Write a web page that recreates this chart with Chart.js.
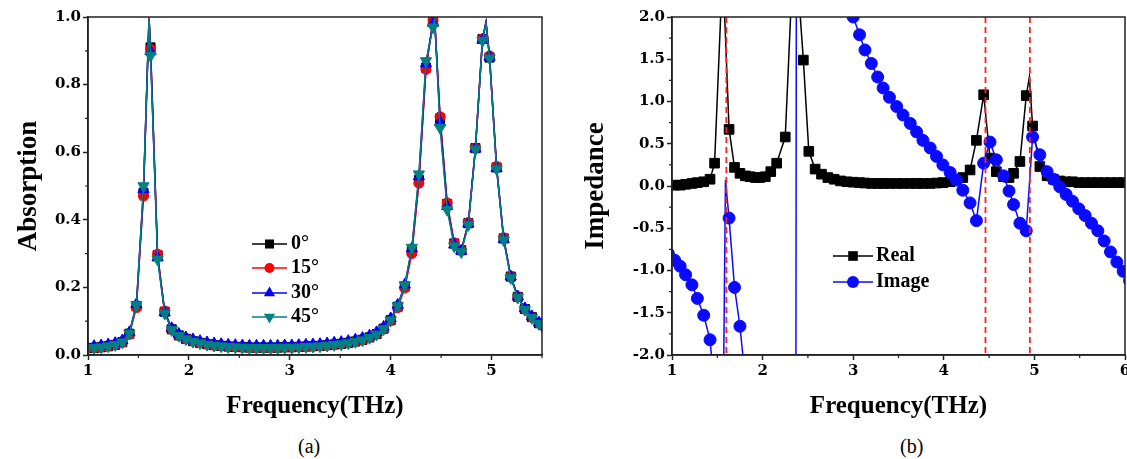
<!DOCTYPE html>
<html>
<head>
<meta charset="utf-8">
<script src="https://cdn.jsdelivr.net/npm/chart.js@4.4.1/dist/chart.umd.min.js"></script>
<style>
  body { margin: 0; background: #fff; width: 1127px; height: 459px; position: relative; overflow: hidden; }
  .panel { position: absolute; top: 0; height: 425px; }
  #panelA { left: 0; width: 560px; }
  #panelB { left: 560px; width: 575px; }
  .caption { position: absolute; top: 435px; font: 20px "Liberation Serif", serif; color: #000; }
</style>
</head>
<body>
<div class="panel" id="panelA"><canvas id="absChart"></canvas></div>
<div class="panel" id="panelB"><canvas id="impChart"></canvas></div>
<div class="caption" style="left:298px">(a)</div>
<div class="caption" style="left:900px">(b)</div>
<script>
// --- (a) absorption, one marker every ~0.07 THz ---
const freqA = [0.99, 1.06, 1.13, 1.20, 1.27, 1.34, 1.41, 1.48, 1.55, 1.62,
  1.69, 1.76, 1.83, 1.90, 1.97, 2.04, 2.11, 2.18, 2.25, 2.32,
  2.39, 2.46, 2.53, 2.60, 2.67, 2.74, 2.81, 2.88, 2.95, 3.02,
  3.09, 3.16, 3.23, 3.30, 3.37, 3.44, 3.51, 3.58, 3.65, 3.72,
  3.79, 3.86, 3.93, 4.00, 4.07, 4.14, 4.21, 4.28, 4.35, 4.42,
  4.49, 4.56, 4.63, 4.70, 4.77, 4.84, 4.91, 4.98, 5.05, 5.12,
  5.19, 5.26, 5.33, 5.40, 5.47, 5.54];

const abs0 = [0.020, 0.021, 0.023, 0.026, 0.030, 0.038, 0.063, 0.145, 0.480, 0.910,
  0.295, 0.128, 0.076, 0.058, 0.048, 0.041, 0.036, 0.032, 0.029, 0.027,
  0.025, 0.024, 0.023, 0.022, 0.022, 0.022, 0.022, 0.022, 0.023, 0.023,
  0.024, 0.025, 0.026, 0.027, 0.029, 0.031, 0.033, 0.036, 0.040, 0.045,
  0.052, 0.062, 0.078, 0.103, 0.143, 0.203, 0.308, 0.518, 0.850, 0.988,
  0.700, 0.447, 0.330, 0.310, 0.390, 0.612, 0.935, 0.880, 0.555, 0.345,
  0.232, 0.172, 0.136, 0.112, 0.094, 0.082];

const abs15 = [0.020, 0.021, 0.023, 0.026, 0.030, 0.037, 0.061, 0.140, 0.470, 0.905,
  0.298, 0.130, 0.076, 0.058, 0.048, 0.041, 0.036, 0.032, 0.029, 0.027,
  0.025, 0.024, 0.023, 0.022, 0.022, 0.022, 0.022, 0.022, 0.023, 0.023,
  0.024, 0.025, 0.026, 0.027, 0.029, 0.031, 0.033, 0.036, 0.040, 0.045,
  0.052, 0.062, 0.077, 0.101, 0.140, 0.198, 0.300, 0.508, 0.845, 0.990,
  0.705, 0.450, 0.332, 0.310, 0.392, 0.612, 0.935, 0.885, 0.558, 0.347,
  0.233, 0.172, 0.136, 0.112, 0.094, 0.082];

const abs30 = [0.025, 0.026, 0.028, 0.031, 0.035, 0.043, 0.067, 0.150, 0.490, 0.898,
  0.288, 0.126, 0.079, 0.062, 0.052, 0.046, 0.041, 0.037, 0.034, 0.032,
  0.030, 0.029, 0.028, 0.027, 0.027, 0.027, 0.027, 0.027, 0.028, 0.028,
  0.029, 0.030, 0.031, 0.032, 0.034, 0.036, 0.038, 0.041, 0.045, 0.050,
  0.057, 0.067, 0.083, 0.108, 0.148, 0.208, 0.315, 0.528, 0.862, 0.982,
  0.688, 0.440, 0.326, 0.308, 0.388, 0.610, 0.932, 0.882, 0.552, 0.342,
  0.232, 0.173, 0.138, 0.114, 0.096, 0.084];

const abs45 = [0.020, 0.021, 0.023, 0.026, 0.030, 0.038, 0.064, 0.148, 0.500, 0.885,
  0.283, 0.123, 0.074, 0.057, 0.047, 0.040, 0.035, 0.031, 0.028, 0.026,
  0.024, 0.023, 0.022, 0.021, 0.021, 0.021, 0.021, 0.021, 0.022, 0.022,
  0.023, 0.024, 0.025, 0.026, 0.028, 0.030, 0.032, 0.035, 0.039, 0.044,
  0.051, 0.061, 0.077, 0.103, 0.145, 0.207, 0.318, 0.535, 0.870, 0.970,
  0.672, 0.430, 0.322, 0.305, 0.385, 0.608, 0.930, 0.878, 0.550, 0.340,
  0.228, 0.170, 0.134, 0.110, 0.092, 0.080];

// peak tops the curves pass through between two markers
const peakFreqA = [1.605, 4.435, 4.945];
const peak0 = [0.998, 1.000, 0.985];
const peak15 = [0.998, 1.000, 0.985];
const peak30 = [0.995, 0.998, 0.983];
const peak45 = [0.995, 0.995, 0.980];

const angleLabels = ['0°', '15°', '30°', '45°'];
const xTicksA = [1, 2, 3, 4, 5];
const yTicksA = [0, 0.2, 0.4, 0.6, 0.8, 1.0];

// --- (b) impedance ---
const freqB = [0.96,
  1.03, 1.09, 1.15, 1.22, 1.28, 1.35, 1.42, 1.47, 1.56, 1.63,
  1.69, 1.75, 1.81, 1.86, 1.92, 1.97, 2.03, 2.09, 2.155, 2.25,
  2.35, 2.45, 2.51, 2.58, 2.65, 2.72, 2.79, 2.86, 2.93, 3.00,
  3.07, 3.13, 3.20, 3.27, 3.33, 3.40, 3.48, 3.55, 3.63, 3.70,
  3.77, 3.85, 3.92, 3.99, 4.07, 4.14, 4.21, 4.29, 4.36, 4.44,
  4.51, 4.58, 4.66, 4.72, 4.77, 4.84, 4.91, 4.98, 5.06, 5.14,
  5.21, 5.28, 5.35, 5.42, 5.49, 5.56, 5.63, 5.70, 5.77, 5.84,
  5.91, 5.98, 6.05];

const realB = [0.01,
  0.01, 0.01, 0.02, 0.03, 0.04, 0.05, 0.08, 0.27, 2.60, 0.67,
  0.22, 0.15, 0.12, 0.11, 0.10, 0.10, 0.11, 0.17, 0.27, 0.58,
  3.00, 1.49, 0.41, 0.20, 0.14, 0.10, 0.08, 0.06, 0.05, 0.045,
  0.04, 0.035, 0.03, 0.03, 0.03, 0.03, 0.03, 0.03, 0.03, 0.03,
  0.03, 0.03, 0.035, 0.04, 0.05, 0.07, 0.10, 0.19, 0.54, 1.08,
  0.33, 0.17, 0.11, 0.10, 0.15, 0.29, 1.07, 0.71, 0.23, 0.12,
  0.08, 0.06, 0.05, 0.05, 0.04, 0.04, 0.04, 0.04, 0.04, 0.04,
  0.04, 0.04, 0.04];

const imagB = [-0.80,
  -0.88, -0.95, -1.05, -1.17, -1.33, -1.53, -1.82, -2.42, -3.30, -0.38,
  -1.20, -1.66, -2.30, -2.80, -3.30, -3.80, -4.40, -5.20, -6.50, -10.0,
  -20.0, 80.0, 20.0, 10.0, 6.0, 4.5, 3.5, 2.8, 2.3, 2.0,
  1.79, 1.61, 1.45, 1.29, 1.16, 1.05, 0.94, 0.84, 0.74, 0.64,
  0.54, 0.45, 0.35, 0.25, 0.16, 0.07, -0.05, -0.20, -0.41, 0.27,
  0.52, 0.31, 0.12, -0.06, -0.22, -0.44, -0.53, 0.58, 0.37, 0.17,
  0.08, -0.01, -0.10, -0.18, -0.27, -0.35, -0.44, -0.53, -0.65, -0.78,
  -0.90, -1.01, -1.12];

const realPeakFreq = [4.945];
const realPeakVal = [1.29];
const imagPeakFreq = [1.59];
const imagPeakVal = [0.07];
const resonanceFreq = [1.60, 4.46, 4.95];

const xTicksB = [1, 2, 3, 4, 5, 6];
const yTicksB = [-2, -1.5, -1, -0.5, 0, 0.5, 1, 1.5, 2];

// --- helpers ---
const pts = (xs, ys) => xs.map((x, i) => ({ x, y: ys[i] }));

// a curve (markers + peak tops, no symbols) and the symbols on top of it
function series(label, xs, ys, px, py, color, mk, order) {
  return [
    { label, data: pts(xs, ys).concat(pts(px, py)).sort((a, b) => a.x - b.x),
      showLine: true, borderColor: color, borderWidth: 1.5, pointRadius: 0, clip: 0, order: order + 1 },
    { label, data: pts(xs, ys), showLine: false, pointStyle: mk.style, pointRotation: mk.rot || 0,
      pointRadius: mk.r, backgroundColor: color, borderColor: color, borderWidth: 1, clip: 0, order }
  ];
}

function drawMarker(ctx, style, x, y, r, rot) {
  ctx.beginPath();
  if (style === 'rect') {
    const s = r * Math.SQRT1_2;
    ctx.rect(x - s, y - s, 2 * s, 2 * s);
  } else if (style === 'circle') {
    ctx.arc(x, y, r, 0, Math.PI * 2);
  } else {
    const d = rot ? -1 : 1;
    ctx.moveTo(x, y - d * r);
    ctx.lineTo(x + r * 0.866, y + d * r / 2);
    ctx.lineTo(x - r * 0.866, y + d * r / 2);
    ctx.closePath();
  }
  ctx.fill();
}

// box frame + short minor ticks half way between labelled ones
const axesFrame = {
  id: 'axesFrame',
  afterDraw(chart) {
    const { ctx, chartArea: a, scales: { x, y } } = chart;
    ctx.save();
    ctx.strokeStyle = '#222';
    ctx.lineWidth = 1.5;
    ctx.strokeRect(a.left, a.top, a.right - a.left, a.bottom - a.top);
    ctx.lineWidth = 1.2;
    ctx.beginPath();
    const minor = (scale, draw) => {
      const t = scale.ticks.map(k => k.value);
      const step = t[1] - t[0];
      for (let v = t[0] - step / 2; v <= scale.max + 1e-9; v += step) {
        if (v >= scale.min - 1e-9) draw(scale.getPixelForValue(v));
      }
    };
    minor(x, px => { ctx.moveTo(px, a.bottom); ctx.lineTo(px, a.bottom + 3); });
    minor(y, py => { ctx.moveTo(a.left, py); ctx.lineTo(a.left - 3, py); });
    ctx.stroke();
    ctx.restore();
  }
};

const boxLegend = {
  id: 'boxLegend',
  afterDraw(chart, args, opts) {
    const ctx = chart.ctx;
    ctx.save();
    ctx.font = 'bold 20px "Liberation Serif", serif';
    ctx.textBaseline = 'middle';
    opts.items.forEach((it, i) => {
      const y = opts.rows[i];
      ctx.strokeStyle = it.color;
      ctx.fillStyle = it.color;
      ctx.lineWidth = 1.5;
      ctx.beginPath();
      ctx.moveTo(opts.x0, y);
      ctx.lineTo(opts.x1, y);
      ctx.stroke();
      drawMarker(ctx, it.style, (opts.x0 + opts.x1) / 2, y, it.r, it.rot);
      ctx.fillStyle = '#000';
      ctx.fillText(it.label, opts.textX, y);
    });
    ctx.restore();
  }
};

const resonanceLines = {
  id: 'resonanceLines',
  afterDatasetsDraw(chart) {
    const { ctx, chartArea: a, scales: { x } } = chart;
    ctx.save();
    ctx.strokeStyle = '#ff2020';
    ctx.lineWidth = 1.8;
    ctx.setLineDash([6, 4]);
    resonanceFreq.forEach(f => {
      const px = x.getPixelForValue(f);
      ctx.beginPath();
      ctx.moveTo(px, a.top);
      ctx.lineTo(px, a.bottom);
      ctx.stroke();
    });
    ctx.restore();
  }
};

const tickFont = { family: 'DejaVu Serif', weight: 'bold', size: 15 };
const titleFont = size => ({ family: 'Liberation Serif', weight: 'bold', size });

function axis(min, max, tickValues, fmt, fit, title) {
  return {
    type: 'linear', min, max,
    afterBuildTicks: s => { s.ticks = tickValues.map(value => ({ value })); },
    afterFit: fit,
    grid: { drawOnChartArea: false, tickLength: 5, tickWidth: 1.5, tickColor: '#222' },
    border: { color: '#222', width: 1.5 },
    ticks: { color: '#000', font: tickFont, padding: 2, autoSkip: false, maxRotation: 0, callback: fmt },
    title: { display: true, color: '#000', ...title }
  };
}

const fmtInt = v => String(v);
const fmtOne = v => (Math.abs(v) < 1e-9 ? 0 : v).toFixed(1);

const baseOptions = {
  responsive: true,
  maintainAspectRatio: false,
  animation: false,
  events: [],
};

// --- (a) ---
const sqA = { style: 'rect', r: 6.4 };
const ciA = { style: 'circle', r: 5 };
const trA = { style: 'triangle', r: 6.5 };
const tdA = { style: 'triangle', r: 6.5, rot: 180 };

new Chart(document.getElementById('absChart'), {
  type: 'scatter',
  data: {
    datasets: [
      ...series(angleLabels[0], freqA, abs0, peakFreqA, peak0, '#000000', sqA, 7),
      ...series(angleLabels[1], freqA, abs15, peakFreqA, peak15, '#ff0000', ciA, 5),
      ...series(angleLabels[2], freqA, abs30, peakFreqA, peak30, '#0000ff', trA, 3),
      ...series(angleLabels[3], freqA, abs45, peakFreqA, peak45, '#008080', tdA, 1),
    ]
  },
  options: {
    ...baseOptions,
    layout: { padding: { top: 17, right: 18, bottom: 0, left: 0 }, autoPadding: false },
    plugins: {
      legend: { display: false },
      tooltip: { enabled: false },
      boxLegend: {
        x0: 252, x1: 287, textX: 291, rows: [244, 268, 293, 317],
        items: [
          { label: angleLabels[0], color: '#000000', ...sqA },
          { label: angleLabels[1], color: '#ff0000', ...ciA },
          { label: angleLabels[2], color: '#0000ff', ...trA },
          { label: angleLabels[3], color: '#008080', ...tdA },
        ]
      }
    },
    scales: {
      x: axis(1, 5.5, xTicksA, fmtInt, s => { s.height = 70; },
        { text: 'Frequency(THz)', font: titleFont(25), padding: { top: 0, bottom: 3 } }),
      y: axis(0, 1, yTicksA, fmtOne, s => { s.width = 88; },
        { text: 'Absorption', font: titleFont(27), padding: { top: 13, bottom: 0 } }),
    }
  },
  plugins: [axesFrame, boxLegend]
});

// --- (b) --- canvas runs past the page edge so the "6" label is cut like the original
const sqB = { style: 'rect', r: 6.8 };
const ciB = { style: 'circle', r: 6 };

new Chart(document.getElementById('impChart'), {
  type: 'scatter',
  data: {
    datasets: [
      ...series('Real', freqB, realB, realPeakFreq, realPeakVal, '#000000', sqB, 3),
      ...series('Image', freqB, imagB, imagPeakFreq, imagPeakVal, '#0a0aff', ciB, 1),
    ]
  },
  options: {
    ...baseOptions,
    layout: { padding: { top: 17, right: 10, bottom: 0, left: 0 }, autoPadding: false },
    plugins: {
      legend: { display: false },
      tooltip: { enabled: false },
      boxLegend: {
        x0: 273, x1: 313, textX: 316, rows: [256, 282],
        items: [
          { label: 'Real', color: '#000000', ...sqB },
          { label: 'Image', color: '#0a0aff', ...ciB },
        ]
      }
    },
    scales: {
      x: axis(1, 6, xTicksB, fmtInt, s => { s.height = 70; },
        { text: 'Frequency(THz)', font: titleFont(25), padding: { top: 0, bottom: 3 } }),
      y: axis(-2, 2, yTicksB, fmtOne, s => { s.width = 112; },
        { text: 'Impedance', font: titleFont(27), padding: { top: 20, bottom: 0 } }),
    }
  },
  plugins: [axesFrame, resonanceLines, boxLegend]
});
</script>
</body>
</html>
